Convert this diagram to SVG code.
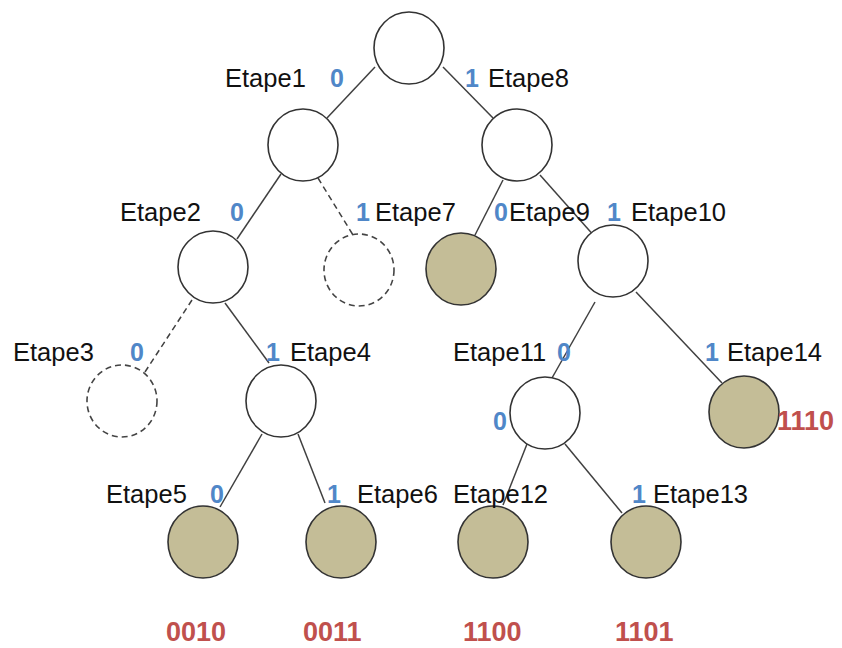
<svg xmlns="http://www.w3.org/2000/svg" width="842" height="648" viewBox="0 0 842 648">
  <style>
    .node { fill: #ffffff; stroke: #333333; stroke-width: 1.6; }
    .leaf { fill: #c4bd97; stroke: #333333; stroke-width: 1.6; }
    .ghost { fill: none; stroke: #444444; stroke-width: 1.6; stroke-dasharray: 6 4; }
    .edge { stroke: #404040; stroke-width: 1.5; fill: none; }
    .edge.dash { stroke-dasharray: 6 4; }
    .lbl { font-family: "Liberation Sans", Arial, sans-serif; font-size: 25.5px; fill: #111111; }
    .bit { font-family: "Liberation Sans", Arial, sans-serif; font-size: 25px; font-weight: bold; fill: #5087c8; }
    .code { font-family: "Liberation Sans", Arial, sans-serif; font-size: 27px; font-weight: bold; fill: #c0504d; }
  </style>
  <rect width="842" height="648" fill="#ffffff"/>

  <!-- connectors -->
  <g id="edges">
    <line class="edge" x1="375" y1="67" x2="327" y2="118"/>
    <line class="edge" x1="443" y1="67" x2="493" y2="118"/>
    <line class="edge" x1="281" y1="174" x2="237" y2="239"/>
    <line class="edge dash" x1="318" y1="178" x2="353" y2="235"/>
    <line class="edge" x1="503" y1="180" x2="475" y2="235"/>
    <line class="edge" x1="540" y1="175" x2="596" y2="238"/>
    <line class="edge dash" x1="192" y1="300" x2="143" y2="375"/>
    <line class="edge" x1="225" y1="303" x2="269" y2="363"/>
    <line class="edge" x1="595" y1="302" x2="552" y2="378"/>
    <line class="edge" x1="636" y1="292" x2="722" y2="383"/>
    <line class="edge" x1="262" y1="434" x2="220" y2="507"/>
    <line class="edge" x1="298" y1="434" x2="325" y2="503"/>
    <line class="edge" x1="527" y1="444" x2="503" y2="505"/>
    <line class="edge" x1="565" y1="444" x2="622" y2="513"/>
  </g>

  <!-- nodes -->
  <g id="root"><ellipse class="node" cx="409" cy="48" rx="35" ry="36"/></g>
  <g id="etape1">
    <ellipse class="node" cx="303" cy="145" rx="35" ry="36"/>
    <text class="lbl" x="225" y="87">Etape1</text>
    <text class="bit" x="330" y="87">0</text>
  </g>
  <g id="etape8">
    <ellipse class="node" cx="517" cy="145" rx="35" ry="36"/>
    <text class="bit" x="465" y="87">1</text>
    <text class="lbl" x="488" y="87">Etape8</text>
  </g>
  <g id="etape2">
    <ellipse class="node" cx="213" cy="267" rx="35" ry="36"/>
    <text class="lbl" x="120" y="221">Etape2</text>
    <text class="bit" x="230" y="221">0</text>
  </g>
  <g id="etape7">
    <ellipse class="ghost" cx="359" cy="270" rx="35" ry="36"/>
    <text class="bit" x="356" y="221">1</text>
    <text class="lbl" x="375" y="221">Etape7</text>
  </g>
  <g id="etape9">
    <ellipse class="leaf" cx="461" cy="269" rx="35" ry="36"/>
    <text class="bit" x="494" y="221">0</text>
    <text class="lbl" x="509" y="221">Etape9</text>
  </g>
  <g id="etape10">
    <ellipse class="node" cx="613" cy="261" rx="35" ry="36"/>
    <text class="bit" x="607" y="221">1</text>
    <text class="lbl" x="631" y="221">Etape10</text>
  </g>
  <g id="etape3">
    <ellipse class="ghost" cx="122" cy="401" rx="35" ry="36"/>
    <text class="lbl" x="13" y="361">Etape3</text>
    <text class="bit" x="130" y="361">0</text>
  </g>
  <g id="etape4">
    <ellipse class="node" cx="281" cy="401" rx="35" ry="36"/>
    <text class="bit" x="266" y="361">1</text>
    <text class="lbl" x="290" y="361">Etape4</text>
  </g>
  <g id="etape11">
    <ellipse class="node" cx="545" cy="413" rx="35" ry="36"/>
    <text class="lbl" x="453" y="361">Etape11</text>
    <text class="bit" x="557" y="361">0</text>
    <text class="bit" x="493" y="430">0</text>
  </g>
  <g id="etape14">
    <ellipse class="leaf" cx="744" cy="412" rx="35" ry="36"/>
    <text class="bit" x="705" y="361">1</text>
    <text class="lbl" x="727" y="361">Etape14</text>
    <text class="code" x="777" y="430">1110</text>
  </g>
  <g id="etape5">
    <ellipse class="leaf" cx="203" cy="542" rx="35" ry="36"/>
    <text class="lbl" x="106" y="503">Etape5</text>
    <text class="bit" x="210" y="503">0</text>
    <text class="code" x="166" y="641">0010</text>
  </g>
  <g id="etape6">
    <ellipse class="leaf" cx="341" cy="542" rx="35" ry="36"/>
    <text class="bit" x="327" y="503">1</text>
    <text class="lbl" x="357" y="503">Etape6</text>
    <text class="code" x="303" y="641">0011</text>
  </g>
  <g id="etape12">
    <ellipse class="leaf" cx="493" cy="542" rx="35" ry="36"/>
    <text class="lbl" x="453" y="503">Etape12</text>
    <text class="code" x="463" y="641">1100</text>
  </g>
  <g id="etape13">
    <ellipse class="leaf" cx="646" cy="542" rx="35" ry="36"/>
    <text class="bit" x="632" y="503">1</text>
    <text class="lbl" x="653" y="503">Etape13</text>
    <text class="code" x="615" y="641">1101</text>
  </g>
</svg>
